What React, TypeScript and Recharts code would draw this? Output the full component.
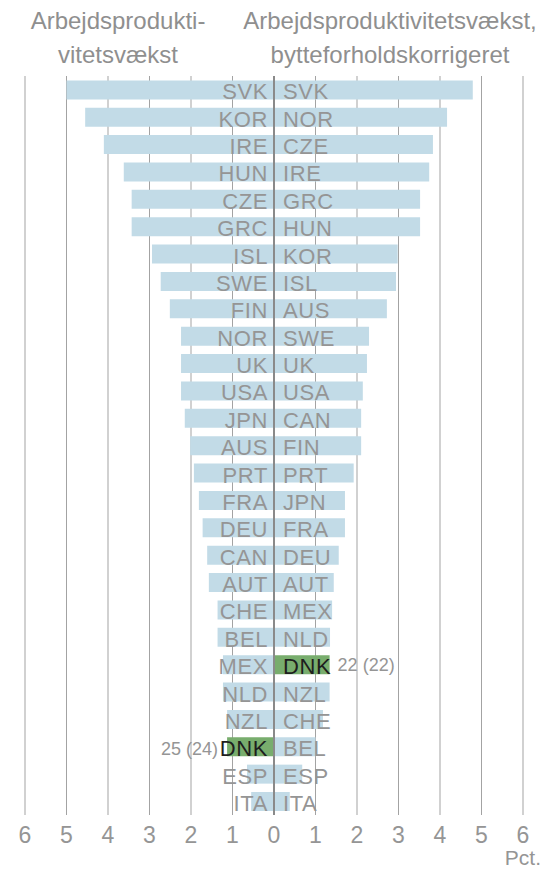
import React from "react";
import {
    BarChart, Bar, XAxis, YAxis, CartesianGrid, Cell, LabelList, ReferenceLine,
} from "recharts";

// Venstre side: arbejdsproduktivitetsvækst
const leftCountries = [
    "SVK", "KOR", "IRE", "HUN", "CZE", "GRC", "ISL", "SWE", "FIN", "NOR", "UK", "USA", "JPN", "AUS",
    "PRT", "FRA", "DEU", "CAN", "AUT", "CHE", "BEL", "MEX", "NLD", "NZL", "DNK", "ESP", "ITA",
];
const leftValues = [
    5.0, 4.55, 4.1, 3.62, 3.43, 3.43, 2.94, 2.73, 2.51, 2.24, 2.24, 2.24, 2.15, 2.02,
    1.93, 1.81, 1.72, 1.61, 1.57, 1.36, 1.36, 1.23, 1.23, 1.13, 1.13, 0.65, 0.55,
];

// Højre side: bytteforholdskorrigeret
const rightCountries = [
    "SVK", "NOR", "CZE", "IRE", "GRC", "HUN", "KOR", "ISL", "AUS", "SWE", "UK", "USA", "CAN", "FIN",
    "PRT", "JPN", "FRA", "DEU", "AUT", "MEX", "NLD", "DNK", "NZL", "CHE", "BEL", "ESP", "ITA",
];
const rightValues = [
    4.79, 4.17, 3.83, 3.74, 3.52, 3.52, 2.98, 2.94, 2.72, 2.29, 2.24, 2.14, 2.1, 2.1,
    1.92, 1.71, 1.71, 1.56, 1.44, 1.4, 1.35, 1.34, 1.34, 1.18, 1.0, 0.68, 0.38,
];

const xTicks = [-6, -5, -4, -3, -2, -1, 0, 1, 2, 3, 4, 5, 6];
const highlight = "DNK";
const leftRank = "25 (24)";
const rightRank = "22 (22)";

const FONT = "'Liberation Sans', Arial, sans-serif";
const BLUE = "#c2dbe7";
const GREEN = "#78ad6d";
const GREY_TEXT = "#959595";

const data = leftCountries.map((name, i) => ({
    row: i,
    leftName: name,
    rightName: rightCountries[i],
    left: -leftValues[i],
    right: rightValues[i],
}));

function LeftLabel(props: any) {
    const { x, y, width, height, index } = props;
    const name = data[index].leftName;
    const zeroX = Math.max(x, x + width);
    const cy = y + height / 2 + 2;
    const isHi = name === highlight;
    return (
        <g>
            <text x={zeroX - 6} y={cy} textAnchor="end" dominantBaseline="central" letterSpacing={0.6}
                fontSize={22} fontFamily={FONT} fill={isHi ? "#1e1e1e" : GREY_TEXT}>{name}</text>
            {isHi && (
                <text x={Math.min(x, x + width) - 9} y={cy} textAnchor="end" dominantBaseline="central"
                    fontSize={18} fontFamily={FONT} fill={GREY_TEXT}>{leftRank}</text>
            )}
        </g>
    );
}

function RightLabel(props: any) {
    const { x, y, width, height, index } = props;
    const name = data[index].rightName;
    const zeroX = Math.min(x, x + width);
    const cy = y + height / 2 + 2;
    const isHi = name === highlight;
    return (
        <g>
            <text x={zeroX + 9} y={cy} textAnchor="start" dominantBaseline="central" letterSpacing={0.6}
                fontSize={22} fontFamily={FONT} fill={isHi ? "#1e1e1e" : GREY_TEXT}>{name}</text>
            {isHi && (
                <text x={Math.max(x, x + width) + 8} y={cy - 2} textAnchor="start" dominantBaseline="central"
                    fontSize={18} fontFamily={FONT} fill={GREY_TEXT}>{rightRank}</text>
            )}
        </g>
    );
}

const titleStyle: React.CSSProperties = {
    position: "absolute", fontFamily: FONT, fontSize: 24, color: "#8f8f8f",
    lineHeight: "34px", textAlign: "center", whiteSpace: "nowrap",
};

export default function App() {
    return (
        <div style={{ position: "absolute", left: 0, top: 0, width: 544, height: 871, background: "#fff" }}>
            <div style={{ ...titleStyle, left: 0, width: 236, top: 4 }}>
                Arbejdsprodukti-<br />vitetsvækst
            </div>
            <div style={{ ...titleStyle, left: 240, width: 300, top: 4 }}>
                Arbejdsproduktivitetsvækst,<br />bytteforholdskorrigeret
            </div>
            <div style={{ position: "absolute", right: 3, top: 846, fontFamily: FONT, fontSize: 21, color: GREY_TEXT }}>
                Pct.
            </div>
            <BarChart width={544} height={871} data={data} layout="vertical" stackOffset="sign"
                barCategoryGap="16%" margin={{ top: 76, right: 21, left: 25, bottom: 0 }}>
                <CartesianGrid horizontal={false} stroke="#a3a3a3" />
                <XAxis type="number" domain={[-6, 6]} ticks={xTicks} interval={0} height={56}
                    axisLine={false} tickLine={false} tickMargin={6}
                    tick={{ fontSize: 23, fill: GREY_TEXT, fontFamily: FONT }}
                    tickFormatter={(v) => String(Math.abs(v))} />
                <YAxis type="category" dataKey="row" hide width={0} />
                <Bar dataKey="left" stackId="a" isAnimationActive={false}>
                    {data.map((d) => (
                        <Cell key={`l-${d.row}`} fill={d.leftName === highlight ? GREEN : BLUE} />
                    ))}
                    <LabelList dataKey="leftName" content={LeftLabel} />
                </Bar>
                <Bar dataKey="right" stackId="a" isAnimationActive={false}>
                    {data.map((d) => (
                        <Cell key={`r-${d.row}`} fill={d.rightName === highlight ? GREEN : BLUE} />
                    ))}
                    <LabelList dataKey="rightName" content={RightLabel} />
                </Bar>
                <ReferenceLine x={0} stroke="#8a8a8a" strokeWidth={2} />
            </BarChart>
        </div>
    );
}
